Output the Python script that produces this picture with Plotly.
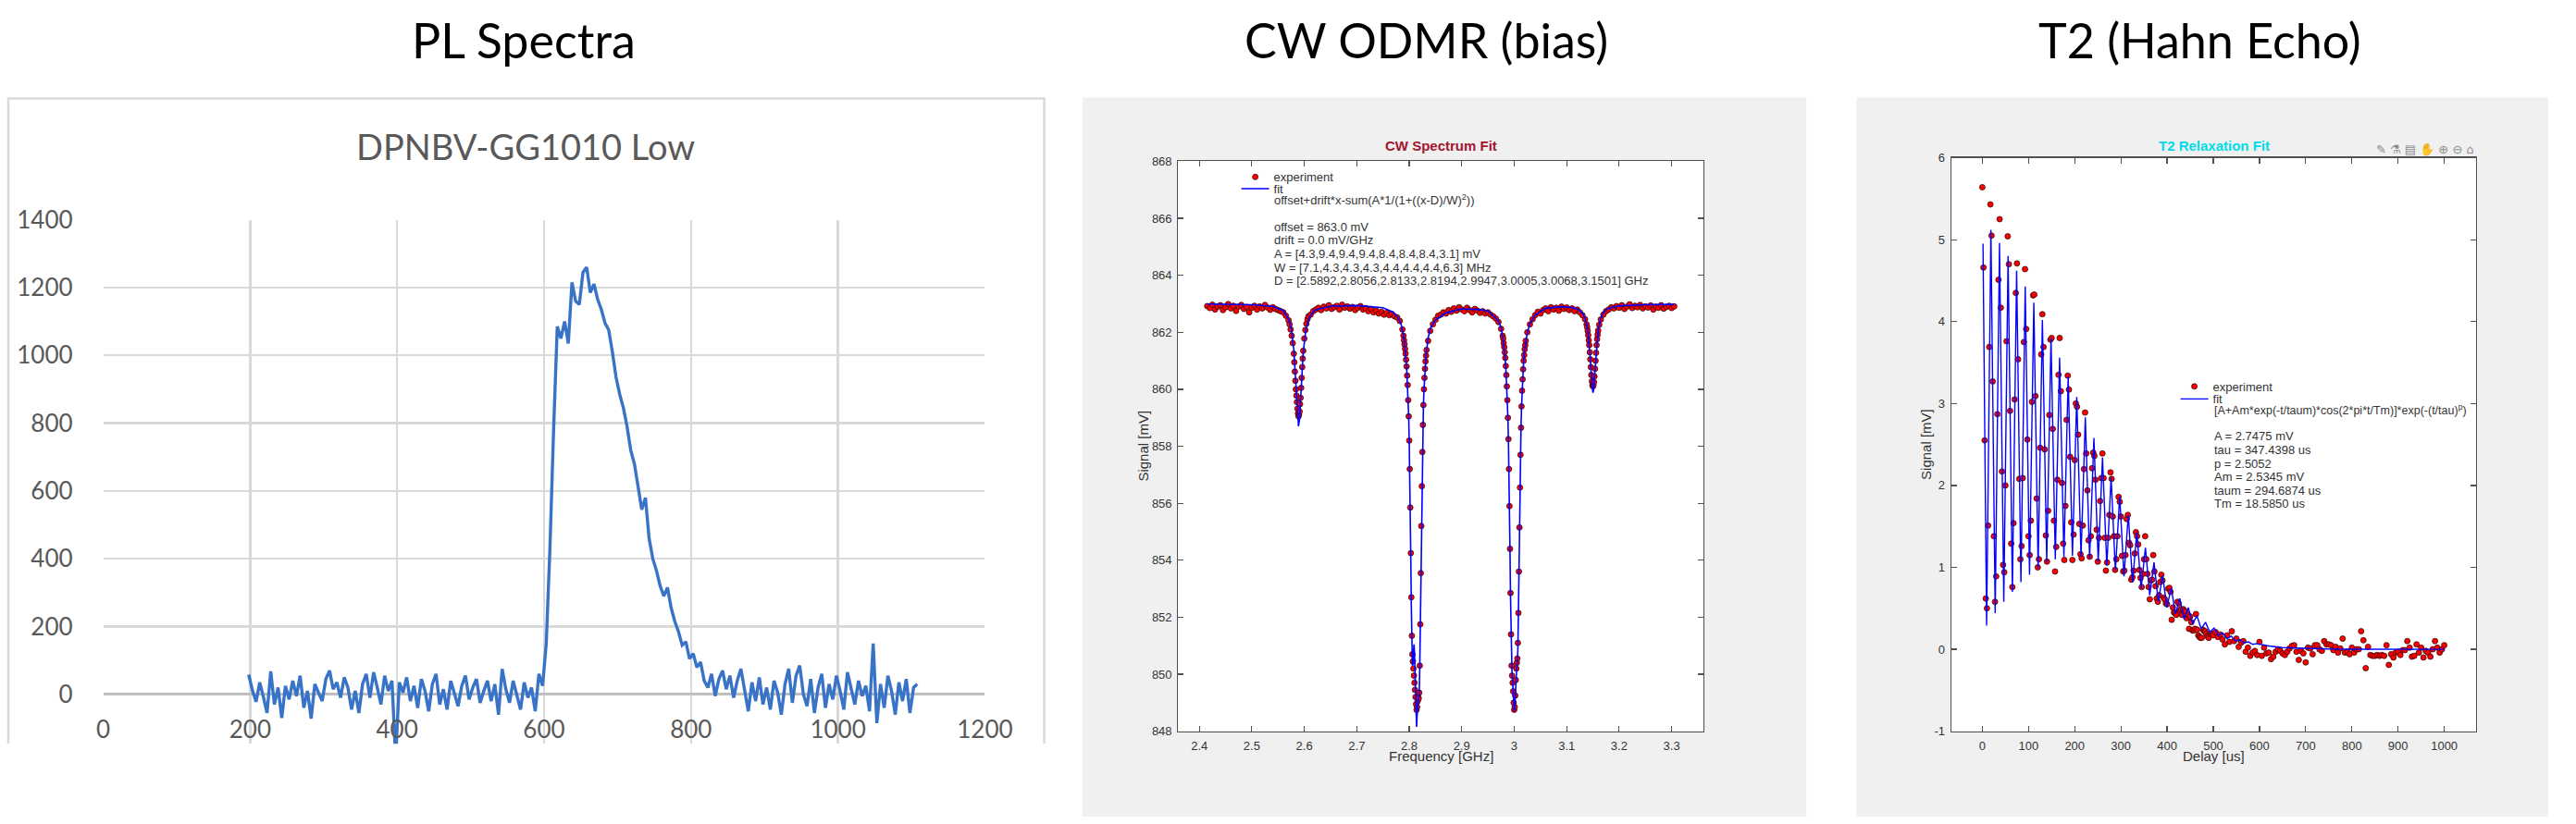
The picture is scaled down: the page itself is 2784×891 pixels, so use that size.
import plotly.graph_objects as go

W, H = 2784, 891


def px(x):
    return x / W


def py(y):
    return 1 - y / H


# ---------------- PL spectrum (Excel chart) ----------------
PL_START_NM = 198
PL_STEP_NM = 5
pl_counts = [
    58, 12, -22, 35, -8, -55, 68, -30, 20, -70,
    25, -15, 40, -5, 55, -40, 10, -72, 30, 5,
    -20, 45, 70, 15, 35, -10, 50, 20, -45, 10,
    -55, 30, 60, -10, 65, 20, -30, 55, 10, 40,
    -190, 35, 5, 50, -20, 25, -40, 45, 10, -50,
    30, 60, -30, 15, -45, 40, 5, -35, 25, 55,
    -15, 20, 45, -25, 10, 40, -20, 30, -60, 75,
    15, -25, 40, 0, -45, 35, -10, 20, -50, 60,
    25, 150, 430, 780, 1085, 1050, 1100, 1035, 1215, 1160,
    1150, 1245, 1260, 1185, 1210, 1165, 1135, 1095, 1075, 1010,
    935, 885, 845, 790, 720, 680, 605, 545, 580, 460,
    400, 365, 320, 290, 315, 255, 215, 185, 145, 155,
    105, 120, 80, 95, 40, 20, 60, -5, 45, 70,
    15, 55, -10, 40, 75, 10, -50, 35, -20, 50,
    -30, 20, -45, 40, 5, -60, 30, 75, -25, 55,
    85, 0, -35, 45, -55, 20, 60, -40, 30, -15,
    55, 10, -45, 65, 20, -30, 40, -5, 25, -50,
    150, -85, 30, -40, 55, 10, -60, 35, -20, 45,
    -55, 20, 30,
]
pl_wavelength = [PL_START_NM + PL_STEP_NM * i for i in range(len(pl_counts))]
pl_xticks = [0, 200, 400, 600, 800, 1000, 1200]
pl_yticks = [0, 200, 400, 600, 800, 1000, 1200, 1400]

# ---------------- CW ODMR ----------------
odmr_freq_mhz = [
    2415, 2420, 2425, 2430, 2435, 2440, 2445, 2450, 2455, 2460,
    2465, 2470, 2475, 2480, 2485, 2490, 2495, 2500, 2505, 2510,
    2515, 2520, 2525, 2530, 2535, 2540, 2545, 2550, 2555, 2560,
    2565, 2570,
    2572, 2574, 2576, 2578, 2580, 2581, 2582, 2583, 2584, 2585,
    2586, 2587, 2588, 2589, 2590, 2591, 2592, 2593, 2594, 2595,
    2596, 2597, 2598, 2600, 2602, 2604, 2606, 2608,
    2612, 2617, 2622, 2627, 2632, 2637, 2642, 2647, 2652, 2657,
    2662, 2667, 2672, 2677, 2682, 2687, 2692, 2697, 2702, 2707,
    2712, 2717, 2722, 2727, 2732, 2737, 2742, 2747, 2752, 2757,
    2762, 2767, 2772, 2777, 2782, 2787,
    2789, 2790, 2791, 2792, 2793, 2794, 2795, 2796, 2797, 2798,
    2799, 2800, 2801, 2802, 2803, 2804, 2805, 2806, 2807, 2808,
    2809, 2810, 2811, 2812, 2813, 2814, 2815, 2816, 2817, 2818,
    2819, 2820, 2821, 2822, 2823, 2824, 2825, 2826, 2827, 2828,
    2829, 2830, 2831, 2832, 2833,
    2836, 2840,
    2845, 2850, 2855, 2860, 2865, 2870, 2875, 2880, 2885, 2890,
    2895, 2900, 2905, 2910, 2915, 2920, 2925, 2930, 2935, 2940,
    2945, 2950, 2955, 2960, 2965, 2970, 2975,
    2978, 2979, 2980, 2981, 2982, 2983, 2984, 2985, 2986, 2987,
    2988, 2989, 2990, 2991, 2992, 2993, 2994, 2995, 2996, 2997,
    2998, 2999, 3000, 3001, 3002, 3003, 3004, 3005, 3006, 3007,
    3008, 3009, 3010, 3011, 3012, 3013, 3014, 3015, 3016, 3017,
    3018, 3019, 3020, 3021, 3022,
    3025, 3030, 3035, 3040, 3045, 3050, 3055, 3060, 3065, 3070,
    3075, 3080, 3085, 3090, 3095, 3100, 3105, 3110, 3115, 3120,
    3125, 3130, 3135,
    3138, 3139, 3140, 3141, 3142, 3143, 3144, 3145, 3146, 3147,
    3148, 3149, 3150, 3151, 3152, 3153, 3154, 3155, 3156, 3157,
    3158, 3159, 3160, 3162, 3165,
    3170, 3175, 3180, 3185, 3190, 3195, 3200, 3205, 3210, 3215,
    3220, 3225, 3230, 3235, 3240, 3245, 3250, 3255, 3260, 3265,
    3270, 3275, 3280, 3285, 3290, 3295, 3300, 3305,
]
odmr_signal_mv = [
    862.92, 862.85, 862.97, 862.80, 862.90, 862.95, 862.78, 862.88, 862.99, 862.84,
    862.93, 862.75, 862.90, 862.96, 862.82, 862.89, 862.70, 862.86, 862.93, 862.80,
    862.91, 862.84, 862.96, 862.87, 862.79, 862.88, 862.82, 862.78, 862.74, 862.70,
    862.58, 862.42,
    862.28, 862.10, 861.88, 861.62, 861.25, 860.95, 860.62, 860.30, 860.00, 859.78,
    859.55, 859.32, 859.15, 859.05, 859.12, 859.22, 859.48, 859.70, 860.05, 860.40,
    860.78, 861.08, 861.35, 861.78, 862.08, 862.30, 862.46, 862.56,
    862.62, 862.74, 862.80, 862.86, 862.78, 862.90, 862.84, 862.95, 862.82, 862.88,
    862.93, 862.80, 862.97, 862.86, 862.91, 862.83, 862.89, 862.78, 862.86, 862.92,
    862.80, 862.85, 862.74, 862.82, 862.70, 862.76, 862.66, 862.72, 862.62, 862.68,
    862.60, 862.64, 862.56, 862.52, 862.40, 862.10,
    861.88, 861.72, 861.58, 861.42, 861.25, 861.04, 860.80, 860.48, 860.15, 859.62,
    859.05, 858.20, 857.20, 855.85, 854.25, 852.70, 851.35, 850.70, 850.45, 850.20,
    849.95, 849.70, 849.45, 849.20, 848.95, 848.75, 848.85, 849.05, 849.20, 849.15,
    849.35, 850.30, 851.75, 853.55, 855.20, 856.60, 857.80, 858.75, 859.45, 860.00,
    860.40, 860.72, 860.98, 861.18, 861.38,
    861.70, 862.05,
    862.28, 862.44, 862.58, 862.62, 862.70, 862.66, 862.78, 862.72, 862.84, 862.76,
    862.88, 862.80, 862.74, 862.86, 862.78, 862.70, 862.82, 862.76, 862.68, 862.74,
    862.66, 862.70, 862.62, 862.56, 862.48, 862.36, 862.12,
    861.88, 861.78, 861.62, 861.48, 861.30, 861.10, 860.82, 860.50, 860.10, 859.62,
    859.00, 858.25, 857.20, 855.90, 854.40, 852.85, 851.40, 850.30, 849.95, 849.70,
    849.40, 849.00, 848.75, 848.85, 849.25, 849.80, 850.20, 850.40, 850.55, 851.10,
    852.15, 853.60, 855.15, 856.55, 857.70, 858.65, 859.40, 859.95, 860.35, 860.70,
    861.00, 861.20, 861.40, 861.55, 861.70,
    862.00, 862.28, 862.46, 862.60, 862.72, 862.66, 862.78, 862.84, 862.74, 862.88,
    862.80, 862.86, 862.76, 862.90, 862.82, 862.87, 862.78, 862.84, 862.74, 862.80,
    862.70, 862.60, 862.46,
    862.28, 862.18, 862.05, 861.90, 861.72, 861.55, 861.30, 861.05, 860.78, 860.50,
    860.28, 860.15, 860.10, 860.14, 860.25, 860.45, 860.72, 861.00, 861.28, 861.55,
    861.76, 861.92, 862.06, 862.26, 862.45,
    862.62, 862.74, 862.80, 862.88, 862.84, 862.92, 862.86, 862.95, 862.82, 862.90,
    862.98, 862.85, 862.93, 862.88, 862.96, 862.84, 862.91, 862.87, 862.94, 862.80,
    862.90, 862.86, 862.95, 862.83, 862.89, 862.93, 862.85, 862.91,
]
odmr_fit_mhz = [
    2415, 2500, 2540, 2560, 2570, 2575, 2580, 2583, 2585, 2587,
    2589, 2591, 2593, 2595, 2598, 2603, 2610, 2620, 2650, 2700,
    2750, 2770, 2780, 2785, 2790, 2795, 2798, 2799, 2800, 2801,
    2802, 2803, 2804, 2805, 2806, 2807, 2808, 2809, 2810, 2811,
    2812, 2813, 2814, 2815, 2816, 2817, 2818, 2819, 2820, 2821,
    2822, 2823, 2824, 2825, 2826, 2827, 2828, 2832, 2836, 2840,
    2850, 2870, 2900, 2930, 2950, 2970, 2975, 2980, 2984, 2986,
    2987, 2988, 2989, 2990, 2991, 2992, 2993, 2994, 2995, 2996,
    2997, 2998, 2999, 3000, 3001, 3002, 3003, 3004, 3005, 3006,
    3007, 3008, 3009, 3010, 3011, 3012, 3013, 3014, 3016, 3018,
    3020, 3025, 3030, 3040, 3060, 3090, 3110, 3120, 3130, 3135,
    3140, 3143, 3145, 3147, 3149, 3150, 3151, 3153, 3155, 3157,
    3160, 3165, 3170, 3180, 3200, 3250, 3305,
]
odmr_fit_mv = [
    862.99, 862.97, 862.91, 862.76, 862.47, 862.14, 861.40, 860.56, 859.82, 859.08,
    858.70, 858.96, 859.66, 860.42, 861.30, 862.10, 862.55, 862.78, 862.92, 862.94,
    862.86, 862.70, 862.47, 862.25, 861.80, 860.80, 859.60, 859.00, 858.10, 857.10,
    855.70, 854.00, 852.40, 850.90, 850.30, 850.40, 850.80, 851.05, 850.75, 850.00,
    849.00, 848.25, 848.15, 848.55, 849.00, 849.15, 849.10, 849.30, 850.20, 851.70,
    853.55, 855.30, 856.70, 857.85, 858.70, 859.40, 859.95, 861.20, 861.80, 862.13,
    862.44, 862.68, 862.82, 862.80, 862.75, 862.40, 862.15, 861.60, 860.80, 860.10,
    859.63, 859.00, 858.20, 857.20, 855.90, 854.30, 852.70, 851.20, 850.20, 849.90,
    849.75, 849.50, 849.00, 848.70, 848.80, 849.30, 849.90, 850.25, 850.30, 850.40,
    850.90, 852.10, 853.70, 855.30, 856.70, 857.80, 858.70, 859.40, 860.35, 861.00,
    861.40, 862.00, 862.30, 862.60, 862.85, 862.90, 862.87, 862.82, 862.68, 862.50,
    862.10, 861.60, 861.10, 860.50, 859.97, 859.88, 859.94, 860.42, 861.05, 861.57,
    862.08, 862.50, 862.70, 862.85, 862.93, 862.97, 862.98,
]
assert len(odmr_freq_mhz) == len(odmr_signal_mv)
assert len(odmr_fit_mhz) == len(odmr_fit_mv)

odmr_text = [
    "offset+drift*x-sum(A*1/(1+((x-D)/W)<sup>2</sup>))",
    "",
    "offset = 863.0 mV",
    "drift = 0.0 mV/GHz",
    "A = [4.3,9.4,9.4,9.4,8.4,8.4,8.4,3.1] mV",
    "W = [7.1,4.3,4.3,4.3,4.4,4.4,4.4,6.3] MHz",
    "D = [2.5892,2.8056,2.8133,2.8194,2.9947,3.0005,3.0068,3.1501] GHz",
]

# ---------------- T2 Hahn echo ----------------
T2_FINE_STEP_US = 2.5
T2_COARSE_STEP_US = 5
t2_signal_fine = [
    5.64, 4.66, 2.55, 0.62, 0.50, 1.51, 3.69, 5.43, 5.05, 3.27,
    1.38, 0.58, 0.89, 2.87, 4.51, 5.25, 4.17, 2.17, 1.03, 0.94,
    2.00, 3.76, 5.04, 4.70, 2.91, 1.29, 0.76, 1.54, 3.05, 4.35,
    4.71, 3.54, 2.08, 1.10, 1.26, 2.09, 3.75, 4.64, 3.91, 2.56,
    1.38, 1.15, 1.57, 3.02, 4.32, 4.33, 3.09, 1.84, 1.00, 1.10,
    2.46, 3.60, 4.09, 3.69, 2.44, 1.39, 1.07, 1.69, 2.86, 3.78,
    3.80, 2.69, 1.57, 0.95, 1.25, 2.07, 3.35, 3.80, 3.15, 2.03,
    1.29, 1.09, 1.75, 2.80, 3.34, 3.17, 2.35, 1.55, 1.09, 1.40,
    2.31, 3.00, 2.96, 2.62, 1.53, 1.16, 1.11, 1.51, 2.20, 2.89,
    2.39, 1.94, 1.33, 1.13, 1.38, 2.21, 2.40, 2.36, 2.07, 1.46,
    1.07, 1.36, 1.81, 2.09, 2.39, 2.09, 1.36, 0.96, 1.06, 1.36,
    1.64, 2.16, 2.08, 1.62, 1.38, 0.97, 1.10, 1.38, 1.86, 1.80,
    1.62, 1.14, 0.95, 0.96, 1.15, 1.59, 1.64, 1.30, 1.27, 0.85,
    0.88, 0.96, 1.17, 1.43, 1.38, 1.28, 0.97, 0.87, 0.76, 0.92,
    1.10, 1.38, 1.10, 0.92, 0.76, 0.61, 0.84, 0.85, 1.15, 0.95,
    0.77, 0.62, 0.58, 0.66, 0.82, 0.91, 0.84, 0.63, 0.61, 0.56,
    0.55, 0.74, 0.75, 0.70, 0.36, 0.51, 0.45, 0.44, 0.42, 0.58,
    0.56, 0.47, 0.49, 0.42, 0.49, 0.47, 0.46, 0.38, 0.42, 0.25,
    0.40, 0.33, 0.23, 0.23, 0.25, 0.43, 0.24, 0.17, 0.15, 0.14,
    0.14, 0.24, 0.22, 0.22, 0.19, 0.16, 0.14, 0.19, 0.18, 0.19,
    0.17,
]
t2_signal_coarse = [
    0.21, 0.15, 0.18, 0.12, 0.06, 0.17, 0.09, 0.22, 0.10, 0.13,
    0.03, 0.08, 0.10, -0.03, 0.02, -0.08, -0.04, -0.02, -0.07, 0.09,
    -0.08, 0.02, -0.05, -0.04, -0.12, -0.09, -0.03, 0.00, -0.02, -0.05,
    -0.07, -0.03, 0.01, 0.04, 0.05, -0.03, -0.13, -0.02, -0.05, -0.16,
    0.02, 0.01, -0.06, 0.05, 0.05, 0.00, -0.02, 0.10, 0.06, 0.06,
    0.05, -0.01, 0.03, -0.04, 0.01, 0.13, -0.04, -0.03, -0.06, 0.02,
    -0.04, 0.00, 0.00, 0.22, 0.11, -0.23, 0.03, -0.07, -0.08, -0.08,
    -0.07, -0.08, -0.07, -0.08, 0.05, -0.19, -0.06, -0.10, -0.04, -0.03,
    -0.07, -0.01, -0.01, 0.10, 0.02, -0.09, -0.08, 0.06, -0.04, 0.02,
    -0.10, -0.02, -0.04, -0.09, 0.00, 0.10, 0.02, -0.04, 0.00, 0.05,
]
t2_delay_us = ([T2_FINE_STEP_US * i for i in range(len(t2_signal_fine))]
               + [500 + T2_COARSE_STEP_US * (i + 1) for i in range(len(t2_signal_coarse))])
t2_signal_mv = t2_signal_fine + t2_signal_coarse

t2_fit_us = [
    1.5, 9.3, 18.6, 27.9, 37.2, 46.5, 55.8, 65.1, 74.3, 83.6,
    92.9, 102.2, 111.5, 120.8, 130.1, 139.4, 148.7, 158.0, 167.3, 176.6,
    185.9, 195.1, 204.4, 213.7, 223.0, 232.3, 241.6, 250.9, 260.2, 269.5,
    278.8, 288.1, 297.4, 306.7, 316.0, 325.2, 334.5, 343.8, 353.1, 362.4,
    371.7, 381.0, 390.3, 399.6, 408.9, 418.2, 427.5, 436.8, 446.0, 455.3,
    464.6, 473.9, 483.2, 492.5, 501.8, 511.1, 520.4, 529.7, 539.0, 548.3,
    557.6, 566.8, 576.1, 585.4, 594.7, 620, 650, 700, 750, 800,
    900, 1000,
]
t2_fit_mv = [
    4.95, 0.29, 5.12, 0.44, 4.96, 0.58, 4.80, 0.70, 4.62, 0.82,
    4.43, 0.91, 4.23, 0.99, 4.02, 1.06, 3.80, 1.10, 3.56, 1.13,
    3.33, 1.14, 3.08, 1.13, 2.83, 1.11, 2.58, 1.07, 2.34, 1.02,
    2.10, 0.96, 1.87, 0.89, 1.64, 0.82, 1.43, 0.74, 1.24, 0.66,
    1.06, 0.58, 0.90, 0.51, 0.75, 0.43, 0.62, 0.37, 0.51, 0.31,
    0.41, 0.25, 0.33, 0.21, 0.26, 0.17, 0.20, 0.13, 0.16, 0.10,
    0.12, 0.08, 0.09, 0.06, 0.07, 0.04, 0.02, 0.01, 0.003, 0.001,
    0.0, 0.0,
]
assert len(t2_fit_us) == len(t2_fit_mv)
t2_yticks = [-1, 0, 1, 2, 3, 4, 5, 6]

t2_text = [
    "[A+Am*exp(-t/taum)*cos(2*pi*t/Tm)]*exp(-(t/tau)<sup>p</sup>)",
    "",
    "A = 2.7475 mV",
    "tau = 347.4398 us",
    "p = 2.5052",
    "Am = 2.5345 mV",
    "taum = 294.6874 us",
    "Tm = 18.5850 us",
]

# ---------------- styles ----------------
EXCEL_FONT = "Lato"
MATLAB_FONT = "Liberation Sans"
MATLAB_INK = "#333333"
AXIS_GREY = "#505050"
RED = "#ff0000"
BLUE = "#0000ff"

fig = go.Figure()

fig.add_trace(go.Scatter(
    x=pl_wavelength, y=pl_counts, mode="lines",
    line=dict(color="#3873c8", width=3.4),
    xaxis="x", yaxis="y", showlegend=False, hoverinfo="skip",
))

dot = dict(color=RED, size=6, line=dict(color="#3a0808", width=0.8))

fig.add_trace(go.Scatter(
    x=[f / 1000 for f in odmr_freq_mhz], y=odmr_signal_mv, mode="markers",
    marker=dot, name="experiment", legend="legend",
    xaxis="x2", yaxis="y2", hoverinfo="skip",
))
fig.add_trace(go.Scatter(
    x=[f / 1000 for f in odmr_fit_mhz], y=odmr_fit_mv, mode="lines",
    line=dict(color=BLUE, width=1.6), name="fit", legend="legend2",
    xaxis="x2", yaxis="y2", hoverinfo="skip",
))
fig.add_trace(go.Scatter(
    x=t2_delay_us, y=t2_signal_mv, mode="markers",
    marker=dot, name="experiment", legend="legend3",
    xaxis="x3", yaxis="y3", hoverinfo="skip",
))
fig.add_trace(go.Scatter(
    x=t2_fit_us, y=t2_fit_mv, mode="lines",
    line=dict(color=BLUE, width=1.4), name="fit", legend="legend4",
    xaxis="x3", yaxis="y3", hoverinfo="skip",
))

excel_tick = dict(family=EXCEL_FONT, size=26, color="#595959")
matlab_tick = dict(family=MATLAB_FONT, size=13, color=MATLAB_INK)
matlab_axis = dict(
    showline=True, linecolor=AXIS_GREY, linewidth=1.3, mirror="ticks",
    ticks="inside", ticklen=6, tickwidth=1.2, tickcolor=AXIS_GREY,
    showgrid=False, zeroline=False, tickfont=matlab_tick, ticklabelstandoff=3,
)

legend_style = dict(
    xanchor="left", yanchor="top", bgcolor="rgba(0,0,0,0)", borderwidth=0,
    font=dict(family=MATLAB_FONT, size=13, color=MATLAB_INK),
)

fig.update_layout(
    width=W, height=H, autosize=False,
    margin=dict(l=0, r=0, t=0, b=0),
    paper_bgcolor="white", plot_bgcolor="rgba(0,0,0,0)",
    xaxis=dict(
        domain=[px(105), px(1071)], range=[0, 1200], tickvals=pl_xticks,
        anchor="free", position=py(755),
        showgrid=True, gridcolor="#d9d9d9", gridwidth=2.5,
        zeroline=False, showline=False, ticks="",
        tickfont=excel_tick, ticklabelstandoff=20,
    ),
    yaxis=dict(
        domain=[py(810), py(227)], range=[-146, 1400], tickvals=pl_yticks,
        anchor="x", showgrid=True, gridcolor="#d9d9d9", gridwidth=2.5,
        zeroline=True, zerolinecolor="#bfbfbf", zerolinewidth=3,
        showline=False, ticks="", tickfont=excel_tick, ticklabelstandoff=32,
    ),
    xaxis2=dict(domain=[px(1283), px(1858)], range=[2.36, 3.36],
                tick0=2.4, dtick=0.1, anchor="y2", **matlab_axis),
    yaxis2=dict(domain=[py(796), py(162)], range=[848, 868],
                tick0=848, dtick=2, anchor="x2", **matlab_axis),
    xaxis3=dict(domain=[px(2130), px(2705)], range=[-67, 1069],
                tick0=0, dtick=100, anchor="y3", **matlab_axis),
    yaxis3=dict(domain=[py(796), py(158)], range=[-1, 6],
                tickvals=t2_yticks, ticktext=[str(v) for v in t2_yticks],
                anchor="x3", **matlab_axis),
    legend=dict(x=px(1347), y=py(164), **legend_style),
    legend2=dict(x=px(1347), y=py(177), **legend_style),
    legend3=dict(x=px(2376), y=py(397), **legend_style),
    legend4=dict(x=px(2376), y=py(411), **legend_style),
)

# panels / frames
shapes = [
    dict(type="path", xref="paper", yref="paper",
         path=f"M {px(1)} {py(810)} L {px(1)} {py(92)} L {px(1136)} {py(92)} L {px(1136)} {py(810)}",
         line=dict(color="#d9d9d9", width=2.5), layer="below"),
    dict(type="rect", xref="paper", yref="paper",
         x0=px(1178), x1=px(1971), y0=0, y1=py(91),
         fillcolor="#f0f0f0", line=dict(width=0), layer="below"),
    dict(type="rect", xref="paper", yref="paper",
         x0=px(1283), x1=px(1858), y0=py(796), y1=py(162),
         fillcolor="white", line=dict(width=0), layer="below"),
    dict(type="rect", xref="paper", yref="paper",
         x0=px(2026), x1=1, y0=0, y1=py(91),
         fillcolor="#f0f0f0", line=dict(width=0), layer="below"),
    dict(type="rect", xref="paper", yref="paper",
         x0=px(2130), x1=px(2705), y0=py(796), y1=py(158),
         fillcolor="white", line=dict(width=0), layer="below"),
]
fig.update_layout(shapes=shapes)


def note(text, x, y, size, color, family=MATLAB_FONT, xanchor="center", angle=0):
    fig.add_annotation(
        text=text, x=px(x), y=py(y), xref="paper", yref="paper",
        xanchor=xanchor, yanchor="middle", showarrow=False, textangle=angle,
        font=dict(family=family, size=size, color=color),
    )


# section headings
note("PL Spectra", 566, 27, 52, "black", EXCEL_FONT)
note("CW ODMR (bias)", 1555, 27, 52, "black", EXCEL_FONT)
note("T2 (Hahn Echo)", 2402, 27, 52, "black", EXCEL_FONT)

# Excel chart title
note("DPNBV-GG1010 Low", 568, 145, 38, "#595959", EXCEL_FONT)

# MATLAB titles and axis labels
note("<b>CW Spectrum Fit</b>", 1571, 145, 15, "#a2142f")
note("<b>T2 Relaxation Fit</b>", 2418, 145, 15, "#00dce8")
note("Signal [mV]", 1245, 479, 15, MATLAB_INK, angle=-90)
note("Frequency [GHz]", 1571, 824, 15, MATLAB_INK)
note("Signal [mV]", 2102, 477, 15, MATLAB_INK, angle=-90)
note("Delay [us]", 2417, 824, 15, MATLAB_INK)

# fit descriptions
for i, line in enumerate(odmr_text):
    if line:
        note(line, 1386, 205 + 15 * i, 13, MATLAB_INK, xanchor="left")
for i, line in enumerate(t2_text):
    if line:
        size = 12.5 if i == 0 else 13
        note(line, 2416, 438 + 15 * i, size, MATLAB_INK, xanchor="left")

# axes toolbar glyphs
fig.add_annotation(
    text="\u270e \u2697 \u25a4 \u270b \u2295 \u2296 \u2302", x=px(2705), y=py(149),
    xref="paper", yref="paper", xanchor="right", yanchor="middle", showarrow=False,
    font=dict(family="DejaVu Sans", size=13, color="#8c8c8c"),
)

fig.write_html(
    "out.html",
    config={"displayModeBar": False, "staticPlot": True},
    post_script="document.body.style.margin='0';document.body.style.overflow='hidden';",
)
